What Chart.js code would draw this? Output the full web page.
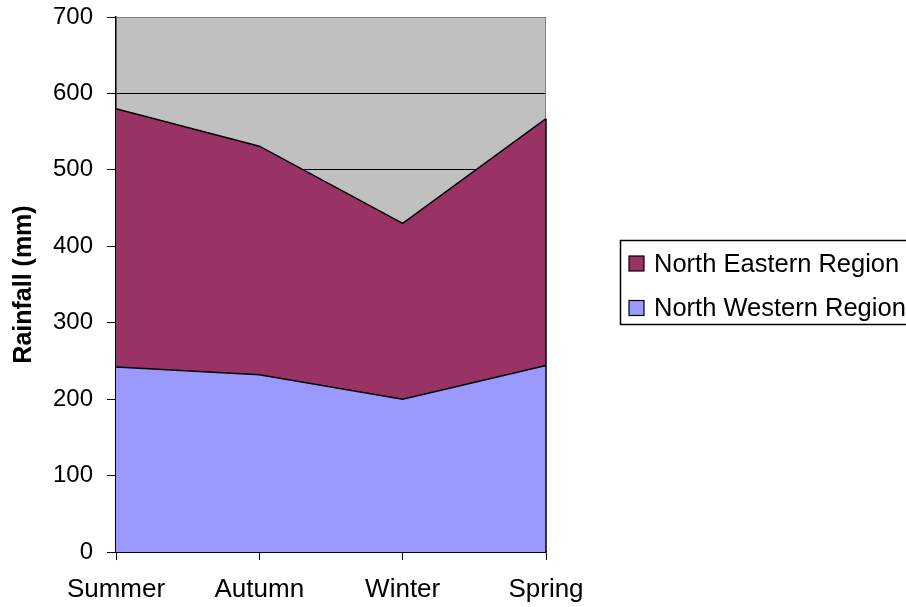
<!DOCTYPE html>
<html>
<head>
<meta charset="utf-8">
<script src="https://cdn.jsdelivr.net/npm/chart.js@4"></script>
<style>
  html, body { margin: 0; padding: 0; background: #fff; overflow: hidden; }
  #wrap { width: 906px; height: 607px; }
</style>
</head>
<body>
<div id="wrap"><canvas id="rain" width="906" height="607"></canvas></div>
<script>
  const seasons = ['Summer', 'Autumn', 'Winter', 'Spring'];
  const northWestern = [242, 232, 200, 244];
  const northEastern = [338, 299, 230, 323];
  const yTicks = [0, 100, 200, 300, 400, 500, 600, 700];

  const FONT = "'Liberation Sans', Arial, sans-serif";

  // plot area fill + border, and the closing edge of the areas on the right
  const plotBack = {
    id: 'plotBack',
    beforeDraw(chart) {
      const { ctx, chartArea: a } = chart;
      ctx.save();
      ctx.fillStyle = '#c0c0c0';
      ctx.fillRect(a.left, a.top, a.right - a.left, a.bottom - a.top);
      ctx.restore();
    },
    afterDatasetsDraw(chart) {
      const { ctx, chartArea: a, scales } = chart;
      const last = seasons.length - 1;
      const x = scales.x.getPixelForValue(last);
      const top = scales.y.getPixelForValue(northWestern[last] + northEastern[last]);
      ctx.save();
      ctx.strokeStyle = '#808080';
      ctx.lineWidth = 1;
      ctx.beginPath();
      ctx.moveTo(a.left, a.top + 0.5);
      ctx.lineTo(a.right - 0.5, a.top + 0.5);
      ctx.lineTo(a.right - 0.5, top);
      ctx.stroke();
      ctx.strokeStyle = '#000';
      ctx.lineWidth = 1.5;
      ctx.beginPath();
      ctx.moveTo(x, top);
      ctx.lineTo(x, a.bottom);
      ctx.stroke();
      ctx.restore();
    }
  };

  // boxed legend to the right, like the spreadsheet one
  const boxLegend = {
    id: 'boxLegend',
    afterDraw(chart) {
      const { ctx } = chart;
      const sets = chart.data.datasets.slice().reverse();
      ctx.save();
      ctx.fillStyle = '#fff';
      ctx.fillRect(620, 240, 300, 84);
      ctx.strokeStyle = '#000';
      ctx.lineWidth = 1.5;
      ctx.strokeRect(620.5, 240.5, 300, 84);
      ctx.font = '25.5px ' + FONT;
      ctx.textBaseline = 'middle';
      sets.forEach((ds, i) => {
        const cy = 263.5 + i * 44.5;
        ctx.fillStyle = ds.backgroundColor;
        ctx.fillRect(629, cy - 7.5, 15, 15);
        ctx.lineWidth = 1.2;
        ctx.strokeRect(629, cy - 7.5, 15, 15);
        ctx.fillStyle = '#000';
        ctx.fillText(ds.label, 654, cy + 1);
      });
      ctx.restore();
    }
  };

  new Chart(document.getElementById('rain'), {
    type: 'line',
    data: {
      labels: seasons,
      datasets: [
        {
          label: 'North Western Region',
          data: northWestern,
          backgroundColor: '#9999ff',
          borderColor: '#000',
          borderWidth: 1.5,
          fill: 'origin',
          pointRadius: 0,
          tension: 0
        },
        {
          label: 'North Eastern Region',
          data: northEastern,
          backgroundColor: '#993366',
          borderColor: '#000',
          borderWidth: 1.5,
          fill: '-1',
          pointRadius: 0,
          tension: 0
        }
      ]
    },
    plugins: [plotBack, boxLegend],
    options: {
      responsive: false,
      animation: false,
      layout: { padding: { left: 0, top: 17, right: 360, bottom: 0 } },
      plugins: {
        legend: { display: false },
        tooltip: { enabled: false }
      },
      scales: {
        x: {
          offset: false,
          grid: { drawOnChartArea: false, drawTicks: true, tickLength: 8, color: '#000' },
          border: { color: '#000', width: 1.5 },
          ticks: { color: '#000', padding: 14, maxRotation: 0, font: { family: FONT, size: 26 } },
          afterFit(scale) {
            scale.height = 55;
            scale.paddingLeft = 0;
            scale.paddingRight = 0;
          }
        },
        y: {
          stacked: true,
          min: 0,
          max: 700,
          afterBuildTicks(scale) { scale.ticks = yTicks.map((v) => ({ value: v })); },
          grid: { color: '#000', lineWidth: 1, tickLength: 9 },
          border: { color: '#000', width: 1.5 },
          ticks: { color: '#000', padding: 14, font: { family: FONT, size: 24 } },
          title: {
            display: true,
            text: 'Rainfall (mm)',
            color: '#000',
            font: { family: FONT, size: 25, weight: 'bold' },
            padding: { top: 9, bottom: 0 }
          },
          afterFit(scale) {
            scale.width = 116;
            scale.paddingTop = 0;
            scale.paddingBottom = 0;
          }
        }
      }
    }
  });
</script>
</body>
</html>
